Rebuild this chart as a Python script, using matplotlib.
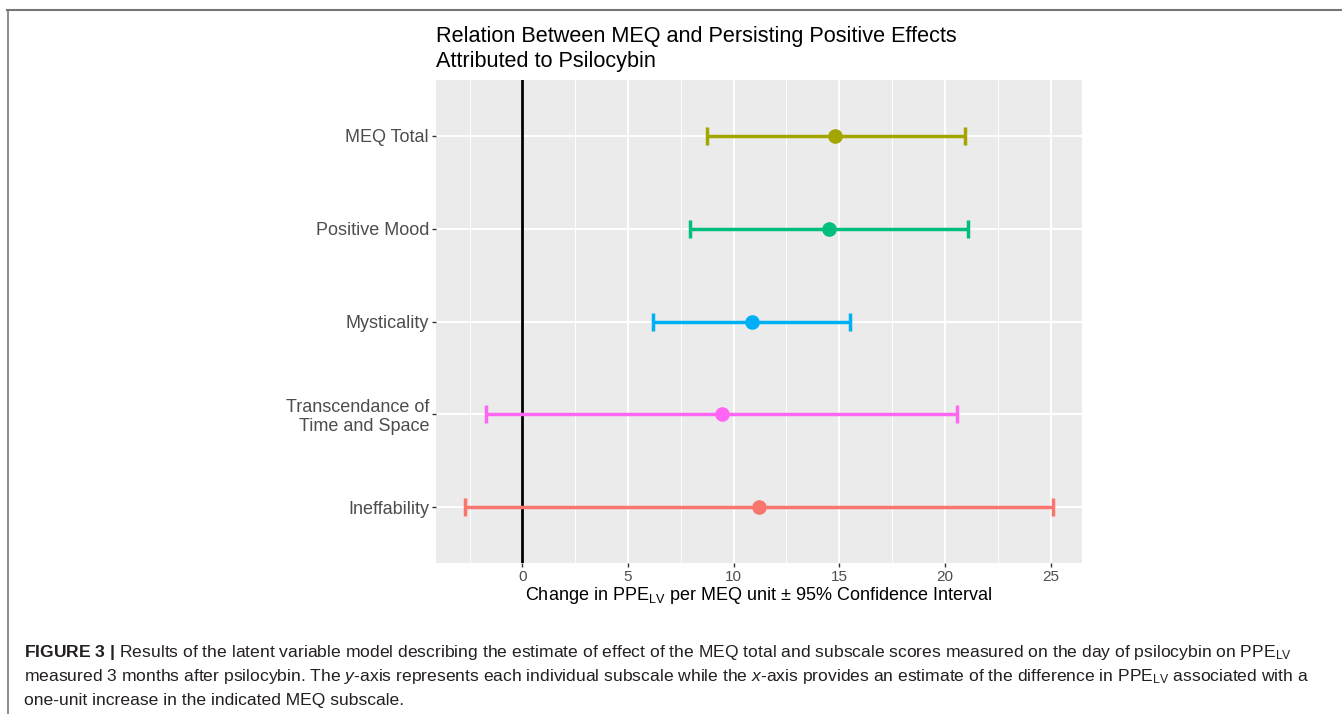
import numpy as np
import matplotlib
matplotlib.use("Agg")
import matplotlib.pyplot as plt
from matplotlib.lines import Line2D

plt.rcParams['font.family'] = ['Liberation Sans', 'DejaVu Sans']
plt.rcParams['mathtext.fontset'] = 'custom'
plt.rcParams['mathtext.rm'] = 'Liberation Sans'
plt.rcParams['mathtext.it'] = 'Liberation Sans:italic'
plt.rcParams['mathtext.bf'] = 'Liberation Sans:bold'

# data (bottom to top)
categories = ["Ineffability", "Transcendance of\nTime and Space", "Mysticality",
              "Positive Mood", "MEQ Total"]
estimate = [11.2, 9.44, 10.86, 14.52, 14.8]
lower = [-2.70, -1.71, 6.17, 7.92, 8.73]
upper = [25.1, 20.59, 15.51, 21.11, 20.97]
colors = ["#F8766D", "#FF66F2", "#00B0F6", "#00BF7D", "#A3A500"]
xticks = [0, 5, 10, 15, 20, 25]

W, H = 1342, 714
fig = plt.figure(figsize=(W / 100, H / 100), dpi=100)
ax = fig.add_axes([436 / W, 1 - 563 / H, (1082 - 436) / W, (563 - 80) / H])
ax.set_facecolor("#EBEBEB")

ypos = np.arange(1, len(categories) + 1)
# grid
for v in np.arange(-2.5, 27, 5):
    ax.axvline(v, color="white", lw=0.7, zorder=0)
for v in xticks:
    ax.axvline(v, color="white", lw=1.4, zorder=0)
for y in ypos:
    ax.axhline(y, color="white", lw=1.4, zorder=0)

ax.axvline(0, color="black", lw=2.0, zorder=1)

for y, est, lo, hi, c in zip(ypos, estimate, lower, upper, colors):
    ax.errorbar(est, y, xerr=[[est - lo], [hi - est]], fmt="o", color=c,
                ms=9.5, elinewidth=2.5, capsize=6.5, capthick=2.5, zorder=3)

lo_all, hi_all = min(lower), max(upper)
pad = 0.05 * (hi_all - lo_all)
ax.set_xlim(lo_all - pad, hi_all + pad)
ax.set_ylim(0.4, len(categories) + 0.6)
ax.set_xticks(xticks)
ax.set_yticks(ypos)
ax.set_yticklabels(categories, fontsize=13, color="#4D4D4D", linespacing=1.15)
ax.tick_params(axis="x", labelsize=11, labelcolor="#4D4D4D", color="#333333",
               length=3, width=1, pad=2)
ax.tick_params(axis="y", color="#333333", length=3, width=1, pad=2)
for s in ax.spines.values():
    s.set_visible(False)

fig.text(759 / W, 1 - 595 / H,
         r"Change in PPE$_{\mathrm{LV}}$ per MEQ unit ± 95% Confidence Interval",
         ha="center", va="center", fontsize=13)

fig.text(436 / W, 1 - 49 / H,
         "Relation Between MEQ and Persisting Positive Effects\nAttributed to Psilocybin",
         ha="left", va="center", fontsize=15.6, linespacing=1.2)

# frame lines
fig.add_artist(Line2D([7 / W, 1], [1 - 10 / H, 1 - 10 / H], color="#777777", lw=1.5))
fig.add_artist(Line2D([8 / W, 8 / W], [0, 1 - 10 / H], color="#777777", lw=1.2))

cap_lines = [
    r"$\mathbf{FIGURE\ 3\ |}$ Results of the latent variable model describing the estimate of effect "
    r"of the MEQ total and subscale scores measured on the day of psilocybin on PPE$_{\mathrm{LV}}$",
    r"measured 3 months after psilocybin. The $\mathit{y}$-axis represents each individual subscale "
    r"while the $\mathit{x}$-axis provides an estimate of the difference in PPE$_{\mathrm{LV}}$ associated with a",
    "one-unit increase in the indicated MEQ subscale.",
]
for i, line in enumerate(cap_lines):
    fig.text(24 / W, 1 - (652 + 24 * i) / H, line, ha="left", va="center",
             fontsize=12.6, color="#231F20")

fig.savefig("out.png", dpi=100)
